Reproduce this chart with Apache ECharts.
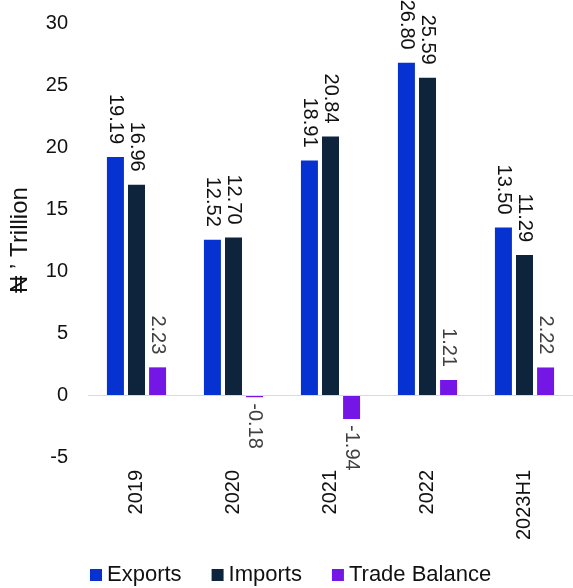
<!DOCTYPE html>
<html>
<head>
<meta charset="utf-8">
<script src="https://cdn.jsdelivr.net/npm/echarts@6/dist/echarts.min.js"></script>
<style>
  html, body { margin: 0; padding: 0; background: #fff; }
  #chart { width: 573px; height: 588px; }
</style>
</head>
<body>
<div id="chart"></div>
<script>
// Nigeria merchandise trade, ₦ trillion
const categories = ['2019', '2020', '2021', '2022', '2023H1'];
const exportsValues = [19.19, 12.52, 18.91, 26.80, 13.50];
const importsValues = [16.96, 12.70, 20.84, 25.59, 11.29];
const tradeBalanceValues = [2.23, -0.18, -1.94, 1.21, 2.22];
const yTicks = { min: -5, max: 30, interval: 5 };

const FONT = '"Liberation Sans", Arial, sans-serif';

// value labels sit outside the bar end: above positive bars, below negative ones
function labelled(values) {
  return values.map(v => ({
    value: v,
    label: v >= 0
      ? { position: 'top', align: 'right', distance: 13 }
      : { position: 'bottom', align: 'left', distance: 6 }
  }));
}

function barSeries(name, values, color, labelColor) {
  return {
    name: name,
    type: 'bar',
    barWidth: 17,
    barGap: '24%',
    itemStyle: { color: color },
    label: {
      show: true,
      rotate: -90,
      verticalAlign: 'middle',
      fontFamily: FONT,
      fontSize: 20,
      color: labelColor,
      formatter: p => p.value.toFixed(2)
    },
    data: labelled(values)
  };
}

const chart = echarts.init(document.getElementById('chart'), null, { renderer: 'canvas' });

const series = [
  barSeries('Exports', exportsValues, '#0532d0', '#111'),
  barSeries('Imports', importsValues, '#0e243d', '#111'),
  barSeries('Trade Balance', tradeBalanceValues, '#7416e6', '#404040')
];
// zero baseline
series[0].markLine = {
  silent: true,
  symbol: 'none',
  label: { show: false },
  lineStyle: { color: '#d9d9d9', width: 1, type: 'solid' },
  data: [{ yAxis: 0 }]
};

chart.setOption({
  animation: false,
  grid: { left: 88, right: 0, top: 23, bottom: 131 },
  legend: {
    bottom: -3,
    left: 85,
    itemWidth: 12,
    itemHeight: 12,
    itemGap: 30,
    icon: 'rect',
    textStyle: { fontFamily: FONT, fontSize: 22, color: '#111' },
    data: ['Exports', 'Imports', 'Trade Balance']
  },
  xAxis: {
    type: 'category',
    data: categories,
    axisLine: { show: false },
    axisTick: { show: false },
    axisLabel: {
      rotate: 90,
      margin: 13,
      fontFamily: FONT,
      fontSize: 20,
      color: '#111'
    }
  },
  yAxis: {
    type: 'value',
    min: yTicks.min,
    max: yTicks.max,
    interval: yTicks.interval,
    name: '₦ ’ Trillion',
    nameLocation: 'middle',
    nameGap: 56,
    nameTextStyle: { fontFamily: FONT, fontSize: 24, color: '#111' },
    axisLine: { show: false },
    axisTick: { show: false },
    splitLine: { show: false },
    axisLabel: { margin: 20, fontFamily: FONT, fontSize: 20, color: '#111' }
  },
  series: series
});
</script>
</body>
</html>
